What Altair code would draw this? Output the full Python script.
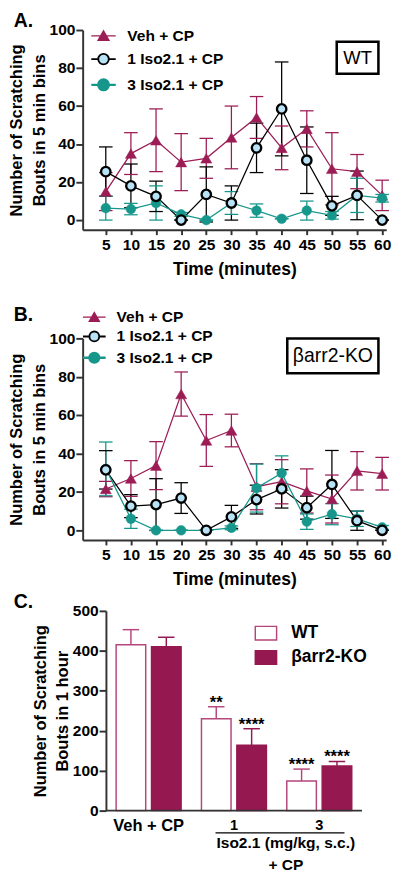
import altair as alt
import pandas as pd

# ---------------- data ----------------
times = [5, 10, 15, 20, 25, 30, 35, 40, 45, 50, 55, 60]
series_names = ["Veh + CP", "1 Iso2.1 + CP", "3 Iso2.1 + CP"]

# Panel A (WT)
wt_veh_mean = [15, 35, 42, 30.5, 32.5, 43.5, 54, 38, 48, 27, 25.5, 13]
wt_veh_sem = [10, 11, 16.5, 15, 10.5, 16.5, 11, 11.5, 9.5, 19, 9, 8]
wt_iso1_mean = [25.5, 18, 12.5, 0, 13.5, 9, 38, 58.5, 31.5, 7.5, 13, 0]
wt_iso1_sem = [13, 11.5, 8, 0, 14.5, 9, 13, 24.7, 17.5, 5, 12.8, 0]
wt_iso3_mean = [6.3, 5.8, 9, 3, 0, 9, 5, 0.7, 5, 2.5, 13, 11.5]
wt_iso3_sem = [6.3, 3, 9, 1, 0, 6, 3.5, 0, 5, 2, 9, 2]

# Panel B (barr2-KO)
ko_veh_mean = [21.5, 27, 33.7, 71, 46.8, 52, 22.7, 25.3, 20.5, 16.3, 31, 29.5]
ko_veh_sem = [4, 9.3, 12.5, 11.5, 13.5, 8.5, 12, 11.5, 11.5, 12.5, 10, 8.5]
ko_iso1_mean = [31.5, 12.6, 13.4, 16.8, 0, 7, 16, 21.6, 11.8, 23.9, 5, 0]
ko_iso1_sem = [10, 6, 13.5, 8, 0, 6, 7.5, 10, 6, 17.7, 5, 0]
ko_iso3_mean = [32, 6, 0, 0, 0, 1.3, 22, 29.8, 4.5, 8.4, 6, 1.5]
ko_iso3_sem = [14, 5, 0, 0, 0, 1, 12.5, 9, 4, 5.5, 4, 1]

y_ticks_time = [0, 20, 40, 60, 80, 100]

# Panel C (totals)
groups = ["Veh + CP", "1", "3"]
genotypes = ["WT", "βarr2-KO"]
wt_total_mean = [415, 230, 74]
wt_total_sem = [38, 30, 30]
ko_total_mean = [410, 164, 112]
ko_total_sem = [24, 41, 11]
wt_stars = ["", "**", "****"]
ko_stars = ["", "****", "****"]
y_ticks_total = [0, 100, 200, 300, 400, 500]

# ---------------- style ----------------
MAROON = "#9c1c56"
BAR_MAROON = "#951850"
PINK = "#b3467b"
TEAL = "#17978c"
LIGHTBLUE = "#b8e3f6"
AXIS = "#333333"
FONT = "Liberation Sans"

TRI_PATH = "M-1.8,0H1.8M0,-0.72L0.8,0.66H-0.8Z"
CIRC_PATH = ("M-1.8,0H-0.78M0.78,0H1.8M-0.78,0A0.78,0.78 0 1,0 0.78,0"
             "A0.78,0.78 0 1,0 -0.78,0Z")
RECT_PATH = "M-1.57,-1H1.57V1H-1.57Z"


def long_table(means, sems):
    rows = []
    for name, m_list, s_list in zip(series_names, means, sems):
        for t, m, s in zip(times, m_list, s_list):
            rows.append({"time": t, "series": name, "mean": m,
                         "lo": m - s, "hi": m + s})
    return pd.DataFrame(rows)


def y_axis(title, values, offset=None):
    kw = {}
    if offset is not None:
        kw["offset"] = offset
    return alt.Axis(values=values, title=title, grid=False,
                    titleFont=FONT, titleFontSize=17, titleFontWeight="bold",
                    titleColor="black", titleLineHeight=23, titlePadding=1,
                    labelFont=FONT, labelFontSize=16, labelFontWeight="bold",
                    labelColor="black", labelPadding=1,
                    tickSize=7, tickWidth=2, tickColor=AXIS,
                    domainColor=AXIS, domainWidth=2, **kw)


def spacer(y_px):
    # invisible layout helper (no data values)
    return alt.Chart(pd.DataFrame({"v": [0]})).mark_rule(
        strokeOpacity=0, opacity=0).encode(
        x=alt.value(0), x2=alt.value(1), y=alt.value(y_px))


def panel_letter(letter, y_px):
    return alt.Chart(pd.DataFrame({"label": [letter]})).mark_text(
        font=FONT, fontSize=20, fontWeight="bold", color="black",
        align="left", baseline="alphabetic").encode(
        x=alt.value(-71), y=alt.value(y_px), text="label:N")


def time_panel(df, height, label, title_offset, box_text, box, text_pos, text_size,
               leg_x, leg_y, leg_size, leg_rowpad, leg_labeloffset,
               bottom_extra=None, letter_mark_y=None):
    xs = alt.Scale(domain=[0.4, 60.8], nice=False, zero=False)
    ys = alt.Scale(domain=[-5.1, 100], nice=False, zero=False)
    x_ax = alt.Axis(values=times, title="Time (minutes)", grid=False,
                    titleFont=FONT, titleFontSize=18, titleFontWeight="bold",
                    titleColor="black", titlePadding=9,
                    labelFont=FONT, labelFontSize=16, labelFontWeight="bold",
                    labelColor="black", labelPadding=2,
                    tickSize=5, tickWidth=2, tickColor=AXIS,
                    domainColor=AXIS, domainWidth=2)
    y_ax = y_axis(["Number of Scratching", "Bouts in 5 min bins"], y_ticks_time)
    x = alt.X("time:Q", scale=xs, axis=x_ax)
    stroke_scale = alt.Scale(domain=series_names, range=[MAROON, "black", TEAL])
    base = alt.Chart(df)

    err = base.mark_rule(strokeWidth=1.3).encode(
        x=x, y=alt.Y("lo:Q", scale=ys, axis=y_ax), y2="hi:Q",
        stroke=alt.Stroke("series:N", scale=stroke_scale, legend=None))
    caps = base.transform_fold(["lo", "hi"], as_=["end", "val"]).mark_tick(
        orient="horizontal", size=14, thickness=1.3, opacity=1).encode(
        x=x, y=alt.Y("val:Q", scale=ys, axis=y_ax),
        color=alt.Color("series:N", scale=stroke_scale, legend=None))
    lines = base.mark_line(strokeWidth=1.3).encode(
        x=x, y=alt.Y("mean:Q", scale=ys, axis=y_ax),
        stroke=alt.Stroke("series:N", scale=stroke_scale, legend=None))
    p_veh = base.transform_filter(alt.datum.series == series_names[0]).mark_point(
        shape="triangle-up", size=130, filled=True, fill=MAROON, stroke=MAROON,
        strokeWidth=0.5, opacity=1).encode(x=x, y=alt.Y("mean:Q", scale=ys, axis=y_ax))
    p_iso3 = base.transform_filter(alt.datum.series == series_names[2]).mark_point(
        shape="circle", size=100, filled=True, fill=TEAL, stroke=TEAL,
        strokeWidth=0.5, opacity=1).encode(x=x, y=alt.Y("mean:Q", scale=ys, axis=y_ax))
    p_iso1 = base.transform_filter(alt.datum.series == series_names[1]).mark_point(
        shape="circle", size=95, fill=LIGHTBLUE, stroke="black",
        strokeWidth=2.4, opacity=1).encode(x=x, y=alt.Y("mean:Q", scale=ys, axis=y_ax))

    leg = alt.Legend(title=None, orient="none", legendX=leg_x, legendY=leg_y,
                     padding=0, symbolSize=leg_size, labelFont=FONT,
                     labelFontSize=16, labelFontWeight="bold", labelColor="black",
                     labelOffset=leg_labeloffset, rowPadding=leg_rowpad,
                     symbolOpacity=1)
    legend_layer = base.transform_filter("datum.time < 0").mark_point(
        opacity=1, filled=False).encode(
        shape=alt.Shape("series:N", scale=alt.Scale(
            domain=series_names, range=[TRI_PATH, CIRC_PATH, CIRC_PATH]), legend=leg),
        fill=alt.Fill("series:N", scale=alt.Scale(
            domain=series_names, range=[MAROON, LIGHTBLUE, TEAL]), legend=leg),
        stroke=alt.Stroke("series:N", scale=alt.Scale(
            domain=series_names, range=[MAROON, "black", TEAL]), legend=leg),
        strokeWidth=alt.StrokeWidth("series:N", scale=alt.Scale(
            domain=series_names, range=[1.4, 2.4, 1.4]), legend=leg))

    box_df = pd.DataFrame({"label": [box_text]})
    rect = alt.Chart(box_df).mark_rect(fill="white", stroke="black",
                                       strokeWidth=2.6).encode(
        x=alt.value(box[0]), x2=alt.value(box[1]),
        y=alt.value(box[2]), y2=alt.value(box[3]))
    txt = alt.Chart(box_df).mark_text(font=FONT, fontSize=text_size,
                                      color="black", baseline="middle").encode(
        x=alt.value(text_pos[0]), y=alt.value(text_pos[1]), text="label:N")

    layers = [err, caps, lines, p_veh, p_iso3, p_iso1, legend_layer, rect, txt]
    if bottom_extra is not None:
        layers.append(spacer(bottom_extra))
    props = dict(width=313, height=height)
    if letter_mark_y is not None:
        layers.append(panel_letter(label, letter_mark_y))
    else:
        props["title"] = alt.TitleParams(label, anchor="start", frame="group", dx=-71,
                                         font=FONT, fontSize=20, fontWeight="bold",
                                         color="black", offset=title_offset)
    return alt.layer(*layers).resolve_scale(
        fill="independent", shape="independent", strokeWidth="independent",
        stroke="independent", color="independent"
    ).properties(**props)


dfA = long_table([wt_veh_mean, wt_iso1_mean, wt_iso3_mean],
                 [wt_veh_sem, wt_iso1_sem, wt_iso3_sem])
dfB = long_table([ko_veh_mean, ko_iso1_mean, ko_iso3_mean],
                 [ko_veh_sem, ko_iso1_sem, ko_iso3_sem])

chartB = time_panel(dfB, 208, "B.", -16, "βarr2-KO", (211, 305, 0, 36), (258, 18.5), 20,
                    4, -30, 169, 3, 15)

# ---------------- panel C ----------------
rows = []
for g, wm, ws, km, ks, wst, kst in zip(groups, wt_total_mean, wt_total_sem,
                                       ko_total_mean, ko_total_sem, wt_stars, ko_stars):
    rows.append({"group": g, "genotype": genotypes[0], "total": wm, "hi": wm + ws, "star": wst})
    rows.append({"group": g, "genotype": genotypes[1], "total": km, "hi": km + ks, "star": kst})
dfC = pd.DataFrame(rows)

ysC = alt.Scale(domain=[0, 500], nice=False)
yC_ax = y_axis(["Number of Scratching", "Bouts in 1 hour"], y_ticks_total, offset=-24)
xC = alt.X("group:N", sort=groups,
           scale=alt.Scale(paddingInner=0, paddingOuter=0.1364, align=1),
           axis=alt.Axis(title=["Iso2.1 (mg/kg, s.c.)", "+ CP"], labelAngle=0,
                         ticks=False, domain=False, labelPadding=7,
                         labelFont=FONT, labelFontWeight="bold", labelColor="black",
                         labelFontSize=alt.ExprRef("datum.value == 'Veh + CP' ? 17 : 15"),
                         titleFont=FONT, titleFontSize=16, titleFontWeight="bold",
                         titleColor="black", titleLineHeight=23,
                         titleX=209, titleY=25, titleBaseline="top",
                         titleAlign="center"))
xoC = alt.XOffset("genotype:N", sort=genotypes,
                  scale=alt.Scale(paddingInner=0.164, paddingOuter=0.2877))
legC = alt.Legend(title=None, orient="none", legendX=180, legendY=14,
                  padding=0, symbolType=RECT_PATH, symbolSize=196,
                  symbolStrokeWidth=1.5, labelFont=FONT,
                  labelFontSize=18, labelFontWeight="bold",
                  labelColor="black", labelOffset=17, rowPadding=5)
fillC = alt.Fill("genotype:N", sort=genotypes,
                 scale=alt.Scale(domain=genotypes, range=["white", BAR_MAROON]),
                 legend=legC)
strokeC = alt.Stroke("genotype:N", sort=genotypes,
                     scale=alt.Scale(domain=genotypes, range=[PINK, BAR_MAROON]),
                     legend=legC)
baseC = alt.Chart(dfC)
bars = baseC.mark_bar(strokeWidth=1.5).encode(
    x=xC, xOffset=xoC, y=alt.Y("total:Q", scale=ysC, axis=yC_ax),
    fill=fillC, stroke=strokeC)
errC = baseC.mark_rule(strokeWidth=1.5).encode(
    x=xC, xOffset=xoC, y=alt.Y("total:Q", scale=ysC, axis=yC_ax), y2="hi:Q",
    stroke=strokeC)
capC = baseC.mark_tick(orient="horizontal", size=17, thickness=1.5, opacity=1).encode(
    x=xC, xOffset=xoC, y=alt.Y("hi:Q", scale=ysC, axis=yC_ax),
    color=alt.Color("genotype:N", sort=genotypes,
                    scale=alt.Scale(domain=genotypes, range=[PINK, BAR_MAROON]),
                    legend=None))
starsC = baseC.mark_text(font=FONT, fontSize=17, fontWeight="bold", color="black",
                         baseline="alphabetic", dy=1).encode(
    x=xC, xOffset=xoC, y=alt.Y("hi:Q", scale=ysC, axis=yC_ax), text="star:N")
axis_line = alt.Chart(pd.DataFrame({"v": [0]})).mark_rule(
    strokeWidth=2, color=AXIS).encode(
    y=alt.Y("v:Q", scale=ysC, axis=yC_ax), x=alt.value(24), x2=alt.value(288))
under = alt.Chart(pd.DataFrame({"v": [0]})).mark_rule(
    strokeWidth=1.3, color="black").encode(
    x=alt.value(137), x2=alt.value(270), y=alt.value(229))

chartC = alt.layer(bars, errC, capC, starsC, axis_line, under).properties(
    width=288, height=206,
    title=alt.TitleParams("C.", anchor="start", frame="group", dx=-71,
                          font=FONT, fontSize=20, fontWeight="bold",
                          color="black", offset=-9))


def build(letter_y, pad):
    chartA = time_panel(dfA, 206, "A.", None, "WT", (262, 305, 12, 45), (283.5, 29), 19,
                        13, -2, 196, 6, 16, bottom_extra=280, letter_mark_y=letter_y)
    return alt.vconcat(chartA, chartB, chartC, spacing=4, padding=pad).resolve_scale(
        fill="independent", stroke="independent", color="independent",
        shape="independent", strokeWidth="independent", x="independent",
        y="independent").configure_view(stroke=None)


try:
    chart = build(-3, {"top": -10, "left": 0, "right": 0, "bottom": 0})
    chart.to_dict()
except Exception:
    chart = build(7, 0)

chart.save("out.html", embed_options={"renderer": "svg", "actions": False})
